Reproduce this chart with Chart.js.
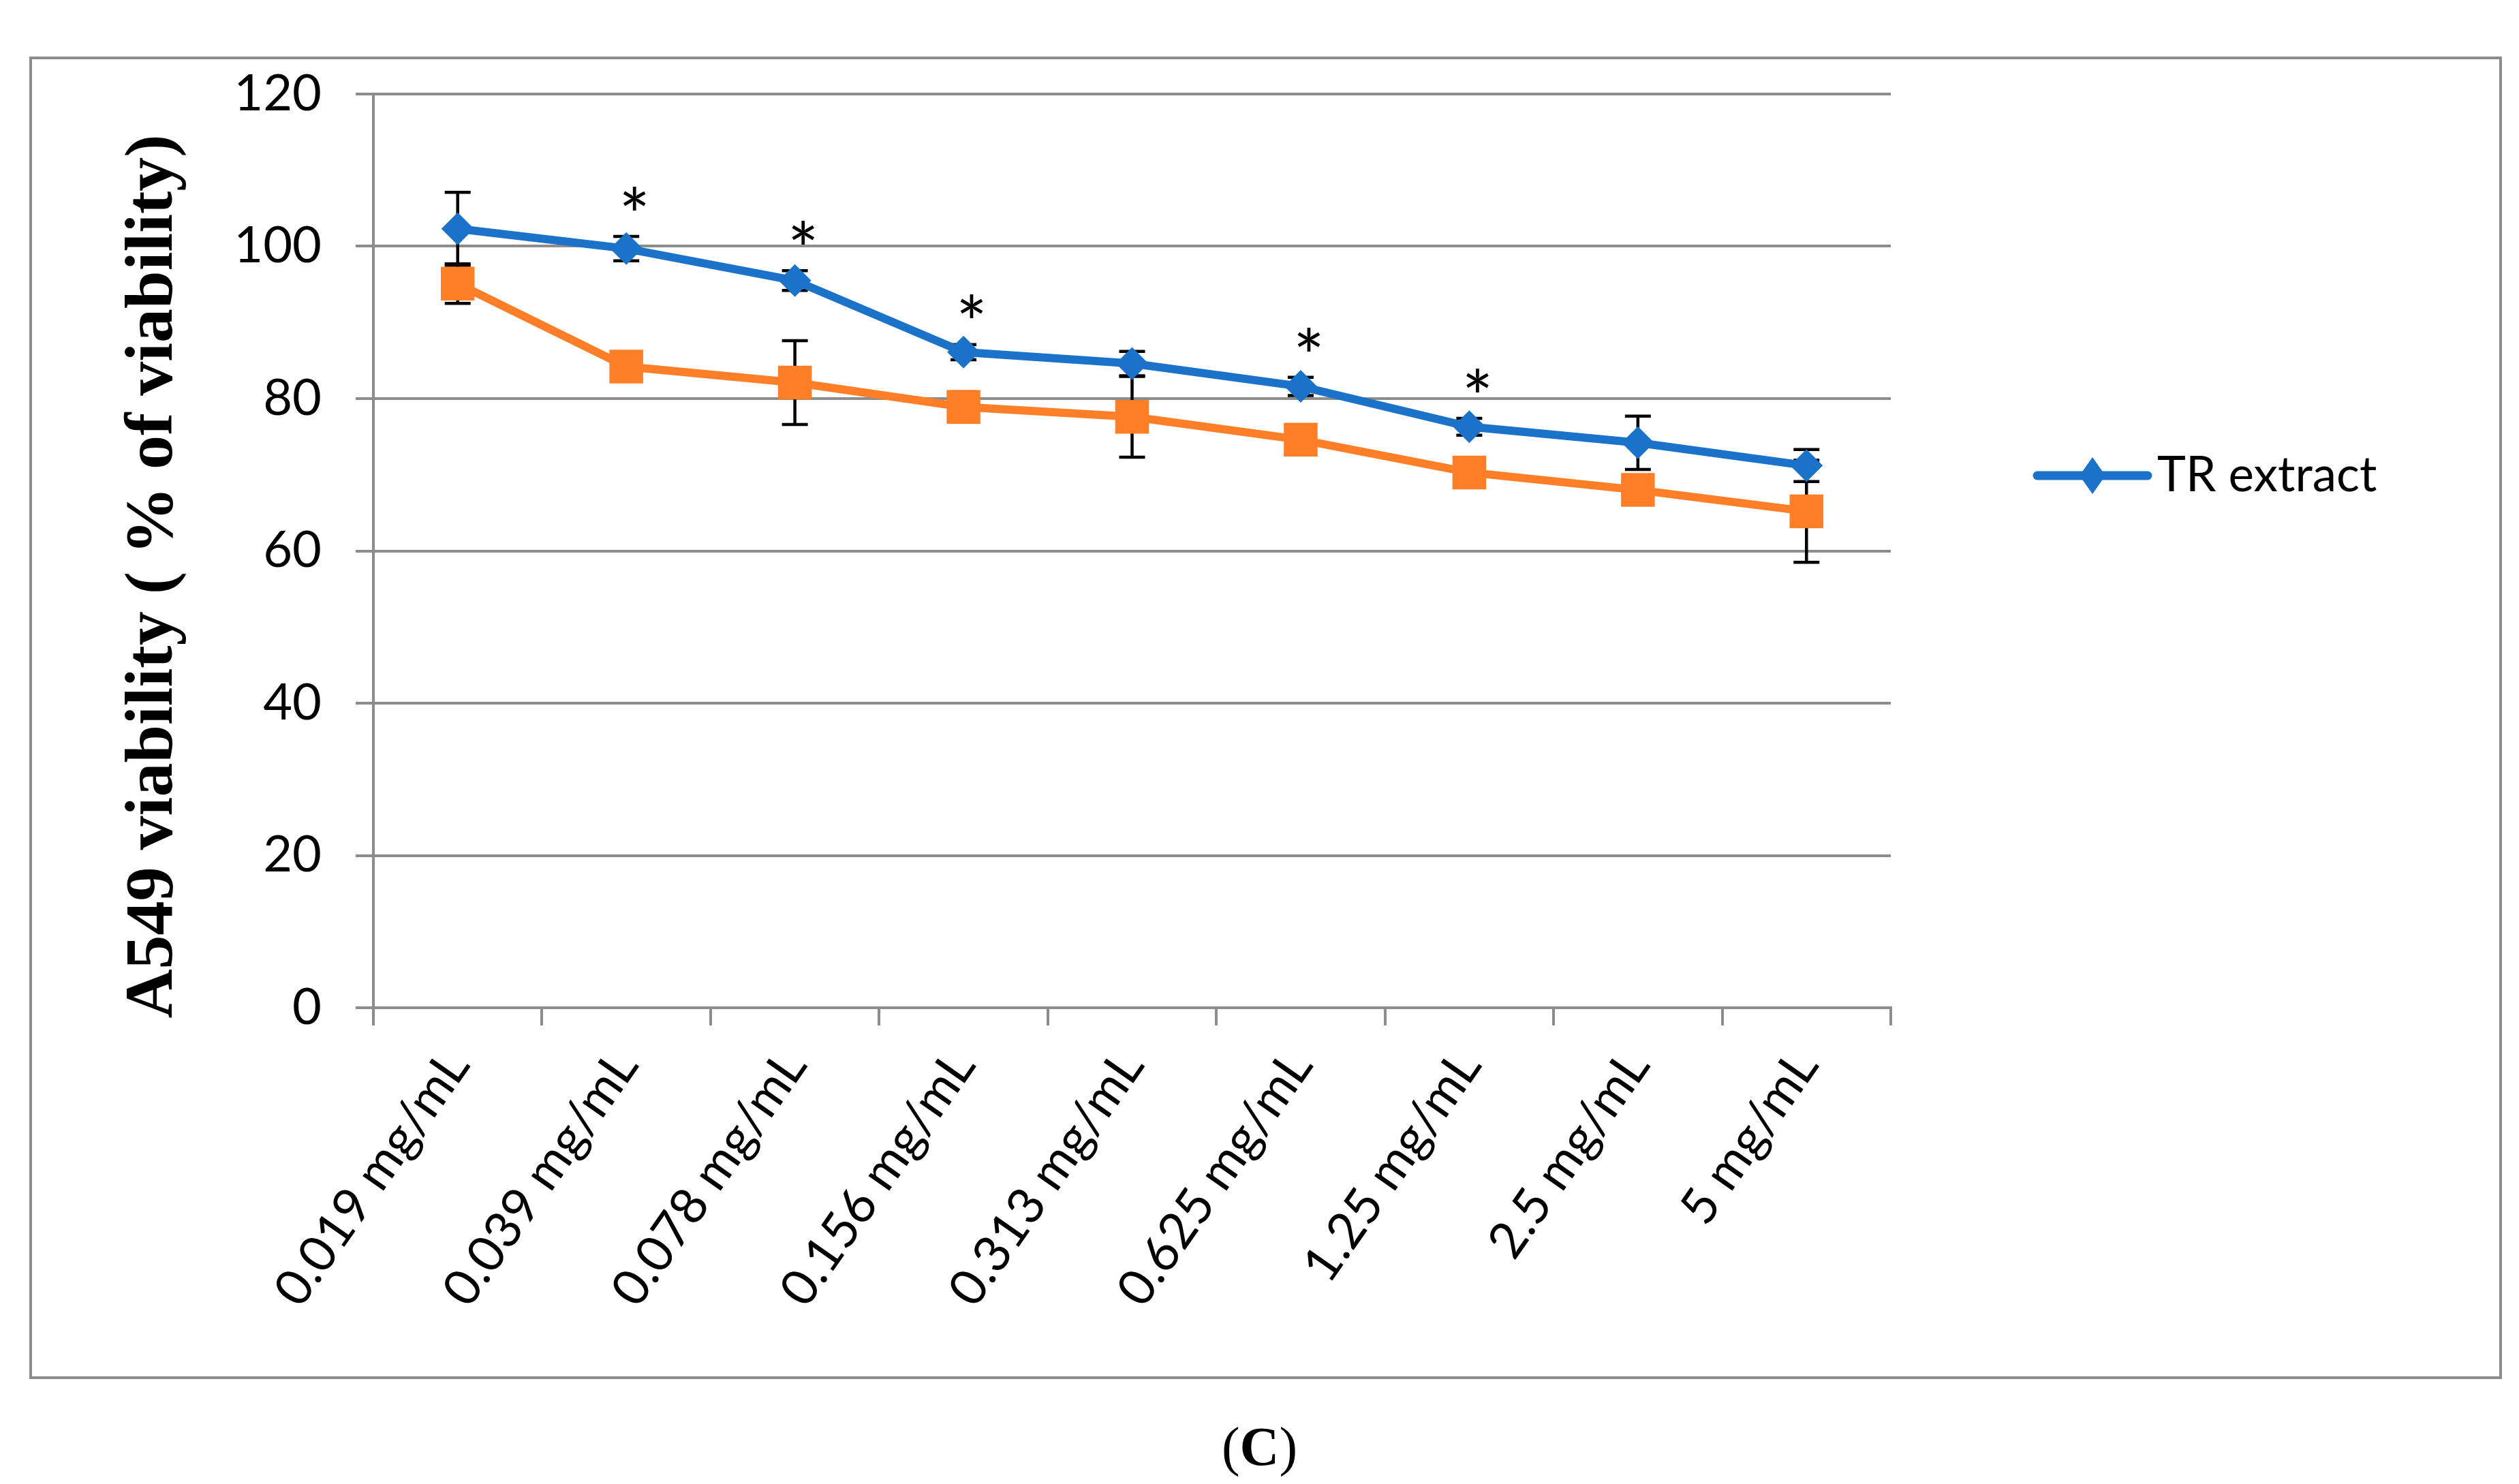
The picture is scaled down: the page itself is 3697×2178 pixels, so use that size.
<!DOCTYPE html>
<html>
<head>
<meta charset="utf-8">
<script src="https://cdn.jsdelivr.net/npm/chart.js@4.4.0/dist/chart.umd.min.js"></script>
<style>
  html, body { margin: 0; padding: 0; background: #fff; }
  #wrap { position: relative; width: 3697px; height: 2178px; }
  canvas { display: block; }
  #frame { position: absolute; left: 43px; top: 83px; width: 3621px; height: 1933px;
           border: 4px solid #8c8c8c; pointer-events: none; }
  #caption { position: absolute; left: 0; width: 3697px; top: 2078px; text-align: center;
             font-family: "Liberation Serif", serif; font-size: 80px; color: #000; }
</style>
</head>
<body>
<div id="wrap">
  <canvas id="lineChart" width="3697" height="2178"></canvas>
  <div id="frame"></div>
  <div id="caption">(<b>C</b>)</div>
</div>
<script>
// Concentrations on the x-axis
const concentrations = ['0.019 mg/mL', '0.039 mg/mL', '0.078 mg/mL', '0.156 mg/mL', '0.313 mg/mL',
                        '0.625 mg/mL', '1.25 mg/mL', '2.5 mg/mL', '5 mg/mL'];

// TR extract viability and its error
const trExtract = [102.3, 99.7, 95.5, 86.1, 84.6, 81.6, 76.3, 74.2, 71.2];
const trError = [4.8, 1.6, 1.3, 1.0, 1.6, 1.2, 1.1, 3.5, 2.1];

// second series (no legend entry) and its error
const secondSeries = [95.1, 84.2, 82.1, 78.9, 77.6, 74.6, 70.3, 68.0, 65.2];
const secondError = [2.6, 1.0, 5.5, 2.0, 5.3, 1.0, 1.0, 1.0, 6.7];

// which points carry a significance star
const significant = [false, true, true, true, false, true, true, false, false];

// y-axis ticks
const yTicks = [0, 20, 40, 60, 80, 100, 120];

const yTitle = 'A549 viability ( % of viability)';

const blue = '#1a73c8';
const orange = '#fe7f27';
const gridGray = '#8c8c8c';
const tickFont = { family: 'Lato', size: 74 };

// Draw black error bars under the markers
const errorBars = {
    id: 'errorBars',
    beforeDatasetsDraw(chart) {
        const ctx = chart.ctx;
        const y = chart.scales.y;
        const errs = [trError, secondError];
        ctx.save();
        ctx.strokeStyle = '#000';
        ctx.lineWidth = 4.5;
        chart.data.datasets.forEach((ds, d) => {
            const meta = chart.getDatasetMeta(d);
            meta.data.forEach((pt, i) => {
                const v = ds.data[i];
                const top = y.getPixelForValue(v + errs[d][i]);
                const bot = y.getPixelForValue(v - errs[d][i]);
                ctx.beginPath();
                ctx.moveTo(pt.x, top); ctx.lineTo(pt.x, bot);
                ctx.moveTo(pt.x - 19, top); ctx.lineTo(pt.x + 19, top);
                ctx.moveTo(pt.x - 19, bot); ctx.lineTo(pt.x + 19, bot);
                ctx.stroke();
            });
        });
        ctx.restore();
    }
};

// Stars above significant TR extract points
const stars = {
    id: 'stars',
    afterDatasetsDraw(chart) {
        const ctx = chart.ctx;
        const y = chart.scales.y;
        const meta = chart.getDatasetMeta(0);
        ctx.save();
        ctx.fillStyle = '#000';
        ctx.font = '108px Lato';
        ctx.textAlign = 'center';
        ctx.textBaseline = 'middle';
        significant.forEach((s, i) => {
            if (!s) return;
            const py = y.getPixelForValue(trExtract[i] + trError[i]);
            ctx.fillText('*', meta.data[i].x + 12, py - 26);
        });
        ctx.restore();
    }
};

// Rotated y-axis title and the single legend entry
const sideText = {
    id: 'sideText',
    afterDraw(chart) {
        const ctx = chart.ctx;
        ctx.save();
        ctx.translate(226, 846);
        ctx.rotate(-Math.PI / 2);
        ctx.fillStyle = '#000';
        ctx.font = 'bold 100px "Liberation Serif"';
        ctx.textAlign = 'center';
        ctx.textBaseline = 'middle';
        ctx.fillText(yTitle, 0, 0);
        ctx.restore();

        const ly = 698;
        ctx.save();
        ctx.strokeStyle = blue;
        ctx.lineWidth = 13;
        ctx.lineCap = 'round';
        ctx.beginPath();
        ctx.moveTo(2990, ly); ctx.lineTo(3152, ly);
        ctx.stroke();
        ctx.fillStyle = blue;
        ctx.beginPath();
        ctx.moveTo(3071, ly - 27); ctx.lineTo(3090, ly);
        ctx.lineTo(3071, ly + 27); ctx.lineTo(3052, ly);
        ctx.closePath();
        ctx.fill();
        ctx.fillStyle = '#000';
        ctx.font = '71px Lato';
        ctx.textBaseline = 'middle';
        ctx.fillText('TR extract', 3166, ly);
        ctx.restore();
    }
};

const ctx = document.getElementById('lineChart').getContext('2d');

const lineChart = new Chart(ctx, {
    type: 'line',
    data: {
        labels: concentrations,
        datasets: [{
            label: 'TR extract',
            data: trExtract,
            borderColor: blue,
            backgroundColor: blue,
            borderWidth: 12,
            pointStyle: 'rectRot',
            pointRadius: 24,
            pointBorderWidth: 0,
            tension: 0
        }, {
            label: 'Series 2',
            data: secondSeries,
            borderColor: orange,
            backgroundColor: orange,
            borderWidth: 12,
            pointStyle: 'rect',
            pointRadius: 35,
            pointBorderWidth: 0,
            tension: 0
        }]
    },
    options: {
        responsive: false,
        devicePixelRatio: 1,
        animation: false,
        layout: {
            padding: { left: 0, top: 138, right: 922, bottom: 0 }
        },
        plugins: {
            legend: { display: false },
            tooltip: { enabled: false }
        },
        scales: {
            x: {
                offset: true,
                afterFit(scale) { scale.height = 699; },
                grid: {
                    offset: true,
                    drawOnChartArea: false,
                    drawTicks: true,
                    tickLength: 26,
                    color: gridGray,
                    lineWidth: 4
                },
                border: { display: true, color: gridGray, width: 4 },
                ticks: {
                    color: '#000',
                    font: tickFont,
                    autoSkip: false,
                    minRotation: 55,
                    maxRotation: 55,
                    padding: 20
                }
            },
            y: {
                min: 0,
                max: 120,
                afterFit(scale) { scale.width = 548; },
                afterBuildTicks(scale) {
                    scale.ticks = yTicks.map(v => ({ value: v }));
                },
                grid: {
                    color: gridGray,
                    lineWidth: 4,
                    drawTicks: true,
                    tickLength: 26
                },
                border: { display: true, color: gridGray, width: 4 },
                ticks: {
                    color: '#000',
                    font: tickFont,
                    padding: 50
                }
            }
        }
    },
    plugins: [errorBars, stars, sideText]
});
</script>
</body>
</html>
